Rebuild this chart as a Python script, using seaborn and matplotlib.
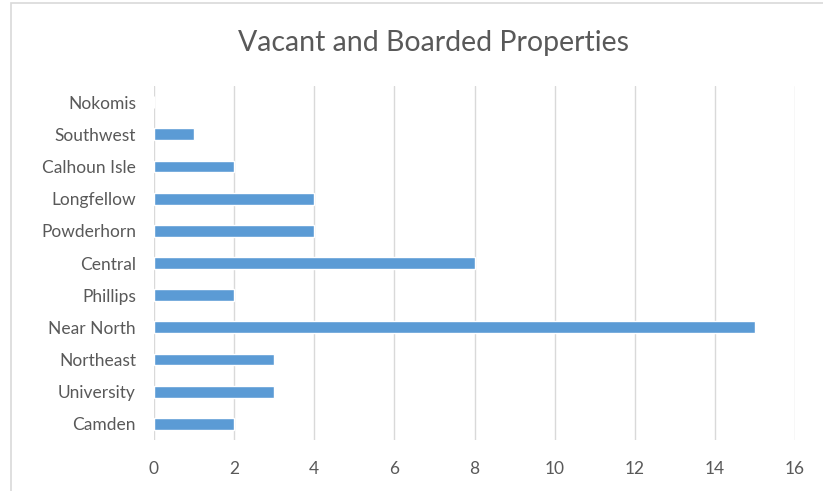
import pandas as pd
import seaborn as sns
import matplotlib.pyplot as plt
from matplotlib.patches import Rectangle

communities = ["Nokomis", "Southwest", "Calhoun Isle", "Longfellow", "Powderhorn",
               "Central", "Phillips", "Near North", "Northeast", "University", "Camden"]
properties = [0, 1, 2, 4, 4, 8, 2, 15, 3, 3, 2]
x_ticks = [0, 2, 4, 6, 8, 10, 12, 14, 16]

df = pd.DataFrame({"Community": communities, "Properties": properties})

sns.set_theme(style="white")
plt.rcParams["font.family"] = ["Lato", "DejaVu Sans"]
text_color = "#595959"

fig = plt.figure(figsize=(8.23, 4.91), dpi=100)
ax = fig.add_axes([0.1871, 0.1039, 0.7789, 0.7209])

sns.barplot(data=df, x="Properties", y="Community", order=communities,
            color="#5B9BD5", saturation=1, width=0.37, ax=ax)

ax.set_xlim(0, 16)
ax.set_xticks(x_ticks)
ax.xaxis.grid(True, color="#d9d9d9", linewidth=1)
ax.set_axisbelow(True)
for s in ax.spines.values():
    s.set_visible(False)
ax.tick_params(axis="both", length=0, colors=text_color, labelsize=12.5)
ax.tick_params(axis="x", pad=15)
ax.tick_params(axis="y", pad=13)
ax.set_xlabel("")
ax.set_ylabel("")

fig.text(0.527, 0.913, "Vacant and Boarded Properties", ha="center", va="center",
         fontsize=20.5, color=text_color)

# light chart border as in the spreadsheet export
fig.patches.append(Rectangle((11 / 823, -0.1), 1.2, (491 - 3) / 491 + 0.1,
                             transform=fig.transFigure, fill=False,
                             edgecolor="#d9d9d9", linewidth=1.2))

fig.savefig("out.png", dpi=100)
